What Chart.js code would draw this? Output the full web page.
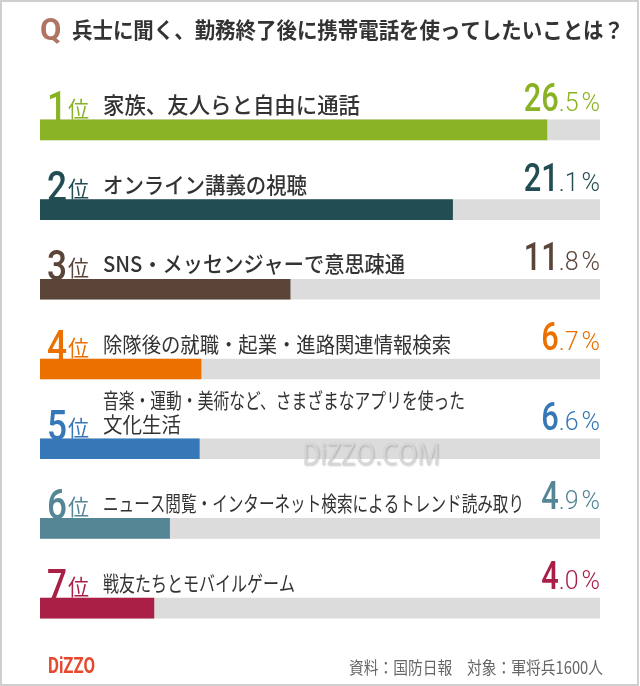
<!DOCTYPE html>
<html lang="ja">
<head>
<meta charset="utf-8">
<title>兵士に聞く、勤務終了後に携帯電話を使ってしたいことは？</title>
<script src="https://cdn.jsdelivr.net/npm/chart.js@4/dist/chart.umd.min.js"></script>
<style>
  html, body { margin: 0; padding: 0; background: #fff; }
  canvas { display: block; }
</style>
</head>
<body>
<canvas id="ranking-chart" width="640" height="686"></canvas>
<script>
const titleText = '兵士に聞く、勤務終了後に携帯電話を使ってしたいことは？';
const categories = [
    '家族、友人らと自由に通話',
    'オンライン講義の視聴',
    'SNS・メッセンジャーで意思疎通',
    '除隊後の就職・起業・進路関連情報検索',
    ['音楽・運動・美術など、さまざまなアプリを使った', '文化生活'],
    'ニュース閲覧・インターネット検索によるトレンド読み取り',
    '戦友たちとモバイルゲーム'
];
const percentages = [26.5, 21.1, 11.8, 6.7, 6.6, 4.9, 4.0];
const rankColors = ['#8ab225', '#224d53', '#5b4438', '#eb7000', '#3677b8', '#548695', '#aa1f45'];
const sourceText = '資料：国防日報　対象：軍将兵1600人';
const brandText = 'DiZZO';
const watermarkText = 'DiZZO.COM';

// the bars in the original start a little left of zero, so the axis does too
const axisMin = -2.52;
const axisMax = 29.54;
const trackValues = categories.map(() => axisMax);

// widths the labels are squeezed to (the original font has proportional kana)
const labelWidths = [257, 204, 302, 348, 362, 421, 192];

const JP = '"Noto Sans CJK JP", "Noto Sans", sans-serif';
const NUM = 'Roboto, "Liberation Sans", sans-serif';

const rankingText = {
    id: 'rankingText',
    beforeDraw(chart) {
        const { ctx, width, height } = chart;
        ctx.save();
        ctx.fillStyle = '#fff';
        ctx.fillRect(0, 0, width, height);
        ctx.restore();
    },
    afterDatasetsDraw(chart) {
        const { ctx, chartArea } = chart;
        const bars = chart.getDatasetMeta(1).data;
        const values = chart.data.datasets[1].data;
        ctx.save();
        ctx.textBaseline = 'alphabetic';
        bars.forEach((bar, i) => {
            const top = bar.y - bar.height / 2;
            const color = rankColors[i];

            // rank number + 位
            ctx.fillStyle = color;
            ctx.textAlign = 'right';
            ctx.font = `500 43px ${NUM}`;
            ctx.fillText(String(i + 1), chartArea.left + 27, top + 1, 20);
            ctx.textAlign = 'left';
            ctx.font = `400 22px ${JP}`;
            ctx.fillText('位', chartArea.left + 28, top - 3, 21);

            // category text
            const label = chart.data.labels[i];
            const lines = Array.isArray(label) ? label : [label];
            ctx.fillStyle = '#333';
            ctx.font = i < 3 ? `500 22px ${JP}` : `400 21px ${JP}`;
            lines.forEach((line, j) => {
                const y = top - 7 - (lines.length - 1 - j) * 24;
                const w = j === 0 ? labelWidths[i] : 78;
                ctx.fillText(line, chartArea.left + 63, y, w);
            });

            // percentage, big whole part and small decimal part
            const [whole, frac] = values[i].toFixed(1).split('.');
            const baseline = top - 9;
            let x = chartArea.right;
            ctx.fillStyle = color;
            ctx.textAlign = 'right';
            ctx.font = `300 25px ${NUM}`;
            ctx.fillText('%', x, baseline);
            x -= ctx.measureText('%').width + 3;
            ctx.fillText('.' + frac, x, baseline);
            x -= ctx.measureText('.' + frac).width;
            ctx.font = `500 38px ${NUM}`;
            ctx.fillText(whole, x, baseline, whole.length * 17.5);
        });
        ctx.restore();
    },
    afterDraw(chart) {
        const { ctx, width, height } = chart;
        ctx.save();
        ctx.textBaseline = 'alphabetic';

        // title
        ctx.textAlign = 'left';
        ctx.fillStyle = '#b07562';
        ctx.font = `700 31px ${NUM}`;
        ctx.fillText('Q', 40, 40, 23);
        ctx.fillStyle = '#333';
        ctx.font = `700 22px ${JP}`;
        ctx.fillText(titleText, 72, 38, 552);

        // watermark
        ctx.shadowColor = 'rgba(0, 0, 0, 0.22)';
        ctx.shadowBlur = 2;
        ctx.shadowOffsetX = 1;
        ctx.shadowOffsetY = 1;
        ctx.fillStyle = '#d6d6d6';
        ctx.font = `400 31px "Open Sans", sans-serif`;
        ctx.fillText(watermarkText, 302, 465, 138);
        ctx.shadowColor = 'transparent';

        // footer
        ctx.fillStyle = '#e64a2e';
        ctx.font = `700 22px ${NUM}`;
        ctx.fillText(brandText, 48, 673, 47);
        ctx.textAlign = 'right';
        ctx.fillStyle = '#666';
        ctx.font = `400 17px ${JP}`;
        ctx.fillText(sourceText, 603, 674, 254);

        // frame
        ctx.strokeStyle = '#cfcfcf';
        ctx.lineWidth = 2;
        ctx.strokeRect(1, 1, width - 3, height - 2);
        ctx.restore();
    }
};

const chartConfig = {
    type: 'bar',
    data: {
        labels: categories,
        datasets: [
            {
                label: 'track',
                data: trackValues,
                backgroundColor: '#dcdcdc',
                base: axisMin,
                barThickness: 20,
                grouped: false,
                order: 2
            },
            {
                label: '割合',
                data: percentages,
                backgroundColor: rankColors,
                base: axisMin,
                barThickness: 20,
                grouped: false,
                order: 1
            }
        ]
    },
    options: {
        responsive: false,
        animation: false,
        indexAxis: 'y',
        layout: { padding: { top: 90, bottom: 38, left: 40, right: 40 } },
        plugins: {
            legend: { display: false },
            tooltip: { enabled: false }
        },
        scales: {
            x: { min: axisMin, max: axisMax, display: false },
            y: { display: false, offset: true }
        }
    },
    plugins: [rankingText]
};

const ctx = document.getElementById('ranking-chart').getContext('2d');
window.rankingChart = new Chart(ctx, chartConfig);
</script>
</body>
</html>
